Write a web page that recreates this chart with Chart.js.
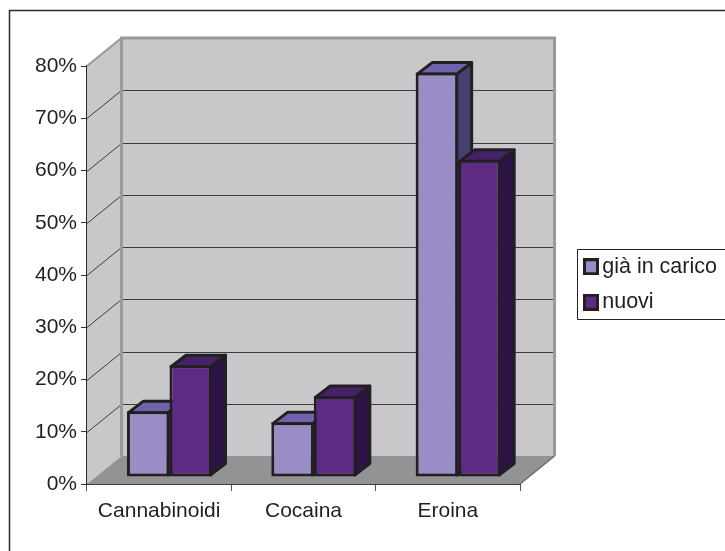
<!DOCTYPE html>
<html><head><meta charset="utf-8">
<style>html,body{margin:0;padding:0;background:#fff}canvas{display:block}</style>
<script src="https://cdn.jsdelivr.net/npm/chart.js@4"></script>
</head><body>
<canvas id="c" width="725" height="551"></canvas>
<script>
const categories = ['Cannabinoidi', 'Cocaina', 'Eroina'];
const seriesNames = ['già in carico', 'nuovi'];
const giaInCarico = [12.6, 10.5, 77.4];
const nuovi = [21.4, 15.5, 60.7];
const faceColors = ['#9a8cc4', '#5f2a84'];
const topColors = ['#6f63ad', '#452168'];
const sideColors = ['#47406f', '#2c1446'];
const edge = '#231f20';
const wall = '#c8c8ca', floorCol = '#929395', wallEdge = '#98999b';
const wallDepth = [34.5, -28];
const barShift = [10.3, -7];
const barDepth = [15, -11.5];

function swatch(color) {
  const s = document.createElement('canvas');
  s.width = 16; s.height = 17;
  const g = s.getContext('2d');
  g.fillStyle = color; g.fillRect(0, 0, 16, 17);
  g.strokeStyle = edge; g.lineWidth = 3; g.strokeRect(1.5, 1.5, 13, 14);
  return s;
}
function poly(ctx, pts, fill, stroke, lw) {
  ctx.beginPath();
  pts.forEach((p, i) => i ? ctx.lineTo(p[0], p[1]) : ctx.moveTo(p[0], p[1]));
  ctx.closePath();
  if (fill) { ctx.fillStyle = fill; ctx.fill(); }
  if (stroke) { ctx.strokeStyle = stroke; ctx.lineWidth = lw; ctx.lineJoin = 'round'; ctx.stroke(); }
}
const scene = {
  id: 'scene',
  afterLayout(chart) {
    const l = chart.legend;
    const w = l.width, h = l.height;
    l.left = 576.5; l.right = l.left + w; l.top = 242; l.bottom = l.top + h;
  },
  beforeDraw(chart) {
    const c = chart.ctx;
    c.save();
    c.fillStyle = '#fff'; c.fillRect(0, 0, 725, 551);
    c.strokeStyle = '#2a2a2a'; c.lineWidth = 1.5;
    c.beginPath(); c.moveTo(9.5, 551); c.lineTo(9.5, 10.5); c.lineTo(725, 10.5); c.stroke();
    c.lineWidth = 1; c.strokeStyle = '#222';
    c.beginPath(); c.moveTo(726, 249.5); c.lineTo(577.5, 249.5); c.lineTo(577.5, 319.5); c.lineTo(726, 319.5); c.stroke();
    c.restore();
  },
  beforeDatasetsDraw(chart) {
    const c = chart.ctx, a = chart.chartArea, y = chart.scales.y;
    const [dx, dy] = wallDepth;
    c.save();
    // walls and floor
    poly(c, [[a.left, a.top], [a.left + dx, a.top + dy], [a.left + dx, a.bottom + dy], [a.left, a.bottom]], wall);
    poly(c, [[a.left + dx, a.top + dy], [a.right + dx, a.top + dy], [a.right + dx, a.bottom + dy], [a.left + dx, a.bottom + dy]], wall);
    poly(c, [[a.left, a.bottom], [a.right, a.bottom], [a.right + dx, a.bottom + dy], [a.left + dx, a.bottom + dy]], floorCol);
    // gridlines
    c.strokeStyle = '#3c3c3e'; c.lineWidth = 1;
    y.ticks.forEach(t => {
      if (t.value === y.min || t.value === y.max) return;
      const p = Math.round(y.getPixelForValue(t.value)) + 0.5;
      c.beginPath(); c.moveTo(a.left, p); c.lineTo(a.left + dx, p + dy); c.lineTo(a.right + dx, p + dy); c.stroke();
    });
    // wall edges
    c.strokeStyle = wallEdge; c.lineWidth = 3; c.lineJoin = 'miter';
    c.beginPath();
    c.moveTo(a.left + dx, a.bottom + dy); c.lineTo(a.left + dx, a.top + dy); c.lineTo(a.right + dx, a.top + dy); c.lineTo(a.right + dx, a.bottom + dy);
    c.stroke();
    c.lineWidth = 2;
    c.beginPath(); c.moveTo(a.left, a.top); c.lineTo(a.left + dx, a.top + dy); c.stroke();
    c.lineWidth = 1.5; c.strokeStyle = '#6c6d70';
    c.beginPath(); c.moveTo(a.right, a.bottom); c.lineTo(a.right + dx, a.bottom + dy); c.stroke();
    // bar tops and sides
    const [bx, by] = barDepth;
    chart.data.datasets.forEach((ds, i) => {
      chart.getDatasetMeta(i).data.forEach(el => {
        const w = el.width;
        const l = el.x - w / 2 + barShift[0] + 1.5, r = el.x + w / 2 + barShift[0] - 1.5;
        const t = el.y + barShift[1] + 1.5, b = el.base + barShift[1] - 1.5;
        poly(c, [[r, t], [r + bx, t + by], [r + bx, b + by], [r, b]], sideColors[i], edge, 3);
        poly(c, [[l, t], [r, t], [r + bx, t + by], [l + bx, t + by]], topColors[i], edge, 3);
      });
    });
    c.restore();
  },
  beforeDatasetDraw(chart) {
    chart.ctx.save();
    chart.ctx.translate(barShift[0], barShift[1]);
  },
  afterDatasetDraw(chart) {
    chart.ctx.restore();
  }
};
new Chart(document.getElementById('c'), {
  type: 'bar',
  data: {
    labels: categories,
    datasets: [giaInCarico, nuovi].map((d, i) => ({
      label: seriesNames[i], data: d,
      backgroundColor: faceColors[i], borderColor: edge, borderWidth: 3, borderSkipped: false,
      categoryPercentage: 0.589, barPercentage: 1
    }))
  },
  plugins: [scene],
  options: {
    responsive: false, animation: false, devicePixelRatio: 1,
    layout: { padding: { left: 0, top: 66, right: 54.5, bottom: 0 } },
    plugins: {
      tooltip: { enabled: false },
      legend: {
        position: 'right', align: 'start',
        labels: {
          color: edge, font: { family: "'Liberation Sans'", size: 21.5 },
          usePointStyle: true, boxWidth: 1, boxHeight: 16, padding: 14,
          generateLabels: ch => ch.data.datasets.map((ds, i) => ({
            text: ds.label, datasetIndex: i, fontColor: edge, hidden: false,
            pointStyle: swatch(faceColors[i]), lineWidth: 0
          }))
        }
      }
    },
    scales: {
      x: {
        afterFit: s => { s.height = 67; },
        grid: { drawOnChartArea: false, drawTicks: true, tickLength: 7, tickColor: '#555', offset: true },
        border: { color: '#3c3c3e', width: 2 },
        ticks: { color: edge, font: { family: "'Liberation Sans'", size: 21 }, padding: 8, maxRotation: 0 }
      },
      y: {
        min: 0, max: 80,
        afterFit: s => { s.width = 87; },
        grid: { drawOnChartArea: false, drawTicks: true, tickLength: 6, tickColor: '#333' },
        border: { color: '#2a2a2a', width: 2 },
        ticks: { stepSize: 10, color: edge, font: { family: "'Liberation Sans'", size: 21 }, padding: 4, callback: v => v + '%' }
      }
    }
  }
});
</script>
</body></html>
